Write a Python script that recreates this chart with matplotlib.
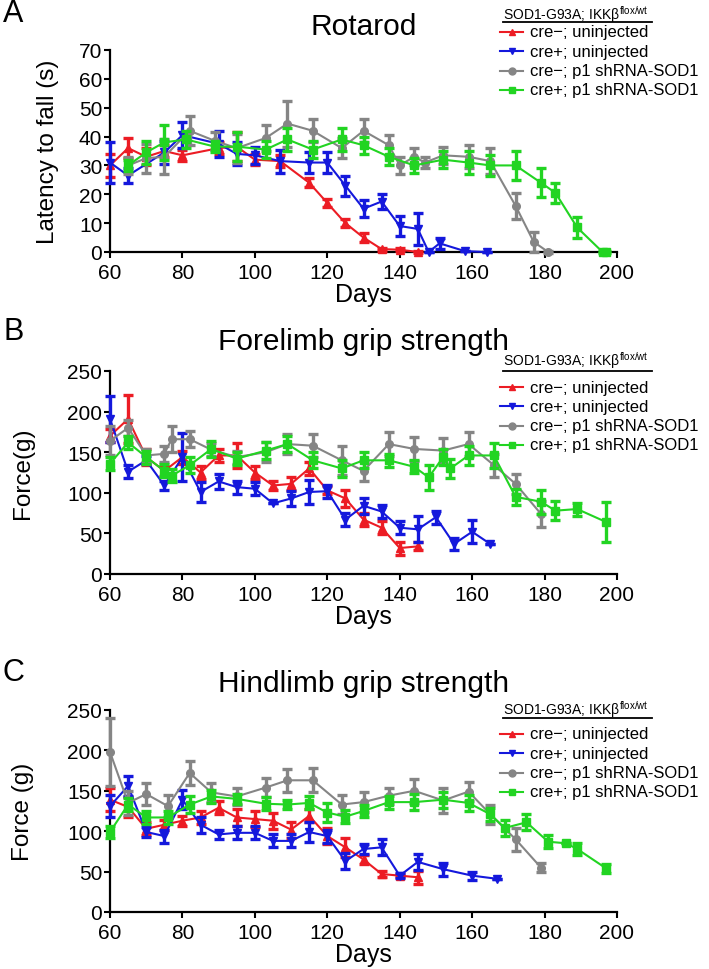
# Recreation of the rotarod / grip strength panels (A, B, C)
import numpy as np
import matplotlib
matplotlib.use("Agg")
import matplotlib.pyplot as plt
from matplotlib.lines import Line2D

plt.rcParams['font.family'] = ['Liberation Sans', 'DejaVu Sans']

# ---- panel A: Rotarod (latency to fall, s) ----
rot_red_days = [60, 65, 70, 75, 80, 90, 95, 100, 107, 115, 120, 125, 130, 135, 140, 145]
rot_red_val = [30, 36, 33, 35, 33.5, 36, 36.5, 32, 31.5, 24, 17, 10, 5, 1, 0.8, 0]
rot_red_err = [4, 3.5, 3, 2, 2, 2, 5, 2, 2, 1.5, 1.5, 1.5, 1.5, 0.5, 0.5, 0.5]

rot_blue_days = [60, 65, 75, 80, 90, 95, 100, 107, 115, 120, 125, 130, 135, 140, 145, 148, 151, 158, 164]
rot_blue_val = [31, 26.5, 34.5, 40.5, 37.5, 34, 33.5, 31.5, 31, 31, 23, 15, 17.5, 9, 8, 0, 3, 0.3, 0]
rot_blue_err = [7, 2.5, 4, 4.5, 4.5, 4, 3, 4, 3.5, 3.5, 3.5, 3, 2.5, 3.5, 5.5, 0, 2, 0, 0]

rot_grey_days = [65, 70, 75, 82, 89, 95, 103, 109, 116, 124, 130, 137, 140, 144, 147, 152, 159, 165, 172, 177, 181]
rot_grey_val = [30, 32.5, 33, 42, 38.5, 36, 39.5, 44.5, 42, 36, 42, 37, 30, 33, 31, 33.5, 33, 31.5, 16, 3.5, 0]
rot_grey_err = [3, 5, 6, 5, 3, 5, 4.5, 8, 4, 3.5, 4, 3.5, 3, 3, 2, 3, 4, 4.5, 4.5, 3.5, 0.3]

rot_green_days = [65, 70, 75, 81, 89, 95, 103, 109, 116, 124, 130, 137, 144, 152, 159, 165, 172, 179, 183, 189, 196, 197]
rot_green_val = [30, 34.5, 38, 39, 36.5, 36.5, 35.5, 39, 35.5, 39, 37, 33, 30, 32, 31, 30, 30, 24, 20.5, 8.5, 0, 0]
rot_green_err = [2, 4, 6, 3, 2, 5, 3, 4, 3, 4, 3, 3, 2.5, 3, 4, 3.5, 5, 5, 3.5, 3.5, 0.5, 0.5]

# ---- panel B: Forelimb grip strength (g) ----
fore_red_days = [60, 65, 70, 75, 80, 85, 90, 95, 100, 105, 110, 115, 120, 125, 130, 135, 140, 145]
fore_red_val = [170, 191, 144, 127, 144, 125, 146, 146, 125, 109, 111, 130, 103, 93, 67, 57, 32, 34]
fore_red_err = [8, 30, 10, 6, 8, 8, 8, 15, 8, 6, 8, 8, 5, 10, 8, 8, 8, 5]

fore_blue_days = [60, 65, 70, 75, 80, 85, 90, 95, 100, 105, 110, 115, 120, 125, 130, 135, 140, 145, 150, 155, 160, 165]
fore_blue_val = [191, 126, 140, 109, 144, 101, 114, 107, 105, 87, 93, 101, 102, 67, 84, 77, 57, 55, 70, 37, 52, 37]
fore_blue_err = [28, 8, 5, 6, 30, 12, 9, 8, 8, 0, 9, 15, 8, 8, 10, 8, 8, 16, 8, 7, 14, 0]

fore_grey_days = [60, 65, 70, 75, 77, 82, 88, 95, 103, 109, 116, 124, 130, 137, 144, 152, 159, 166, 172, 179]
fore_grey_val = [164, 180, 146, 148, 166, 166, 153, 144, 150, 160, 158, 140, 127, 160, 154, 152, 160, 134, 111, 74]
fore_grey_err = [18, 10, 8, 10, 16, 10, 8, 8, 12, 12, 14, 18, 12, 15, 15, 15, 15, 14, 12, 16]

fore_green_days = [60, 65, 70, 75, 77, 82, 88, 95, 103, 109, 116, 124, 130, 137, 144, 148, 152, 154, 159, 166, 172, 179, 183, 189, 197]
fore_green_val = [136, 162, 144, 127, 121, 134, 154, 142, 152, 160, 140, 130, 140, 140, 132, 119, 144, 130, 146, 146, 95, 89, 78, 80, 64]
fore_green_err = [8, 8, 8, 8, 8, 10, 10, 8, 10, 10, 10, 10, 10, 8, 8, 15, 10, 12, 12, 15, 10, 15, 12, 8, 25]

# ---- panel C: Hindlimb grip strength (g) ----
hind_red_days = [60, 65, 70, 75, 80, 85, 90, 95, 100, 105, 110, 115, 120, 125, 130, 135, 140, 145]
hind_red_val = [139, 130, 103, 108, 113, 117, 129, 117, 115, 113, 102, 119, 94, 80, 65, 47, 45, 43]
hind_red_err = [14, 12, 8, 6, 6, 8, 8, 10, 10, 10, 10, 8, 10, 12, 6, 4, 2, 8]

hind_blue_days = [60, 65, 70, 75, 80, 85, 90, 95, 100, 105, 110, 115, 120, 125, 130, 135, 140, 145, 152, 160, 167]
hind_blue_val = [131, 156, 99, 94, 139, 108, 96, 98, 98, 88, 88, 99, 94, 63, 78, 80, 45, 62, 53, 45, 41]
hind_blue_err = [14, 12, 6, 8, 12, 10, 6, 8, 8, 8, 8, 12, 8, 10, 6, 10, 3, 10, 8, 5, 0]

hind_grey_days = [60, 65, 70, 76, 82, 88, 95, 103, 109, 116, 124, 130, 137, 144, 152, 159, 165, 172, 179]
hind_grey_val = [198, 135, 146, 131, 172, 148, 143, 154, 163, 163, 133, 136, 144, 150, 138, 149, 121, 90, 55]
hind_grey_err = [42, 15, 14, 14, 15, 12, 10, 12, 14, 15, 12, 12, 10, 15, 15, 12, 12, 14, 6]

hind_green_days = [60, 65, 70, 76, 82, 88, 95, 103, 109, 115, 120, 125, 130, 137, 144, 152, 159, 165, 169, 175, 181, 186, 189, 197]
hind_green_val = [99, 133, 117, 117, 133, 143, 140, 134, 133, 135, 123, 118, 125, 136, 136, 139, 135, 121, 104, 111, 87, 85, 78, 54]
hind_green_err = [8, 8, 8, 8, 10, 8, 6, 8, 6, 8, 12, 8, 8, 8, 10, 10, 10, 8, 10, 10, 8, 0, 8, 6]

labels = ['cre\u2212; uninjected', 'cre+; uninjected',
          'cre\u2212; p1 shRNA-SOD1', 'cre+; p1 shRNA-SOD1']
colors = ['#ec1c24', '#1418dc', '#858585', '#22d422']
markers = ['^', 'v', 'o', 's']
legend_title = 'SOD1-G93A; IKK\u03b2' + r'$^{\mathregular{flox/wt}}$'

W, H = 709, 970
fig = plt.figure(figsize=(W / 100, H / 100), dpi=100)


def px_axes(top, bottom, left=110, right=617):
    return fig.add_axes([left / W, 1 - bottom / H, (right - left) / W, (bottom - top) / H])


def draw_series(ax, days, val, err, i):
    ax.errorbar(days, val, yerr=err, color=colors[i], marker=markers[i],
                markersize=5.5, lw=1.5, elinewidth=2.4, capsize=3.5, capthick=2.4,
                clip_on=False, zorder=3 + i)


def draw_legend(title_y, line_y, first_y, step=19.3):
    fig.text(503 / W, 1 - title_y / H, legend_title, fontsize=10, ha='left', va='center')
    fig.add_artist(Line2D([503 / W, 652 / W], [1 - line_y / H] * 2, color='black', lw=1.3))
    for i in range(4):
        y = 1 - (first_y + i * step) / H
        fig.add_artist(Line2D([500 / W, 523 / W], [y, y], color=colors[i], lw=1.5))
        fig.add_artist(Line2D([511.5 / W], [y], color=colors[i], marker=markers[i],
                              markersize=5, lw=0))
        fig.text(530 / W, y, labels[i], fontsize=12, ha='left', va='center')


def style_axes(ax, ymax, ystep, ylabel, title, title_pad, ylab_x):
    ax.set_xlim(60, 200)
    ax.set_ylim(0, ymax)
    ax.set_xticks(np.arange(60, 201, 20))
    ax.set_yticks(np.arange(0, ymax + 1, ystep))
    for s in ['top', 'right']:
        ax.spines[s].set_visible(False)
    for s in ['left', 'bottom']:
        ax.spines[s].set_linewidth(1.6)
    ax.tick_params(direction='out', length=4.5, width=1.5, labelsize=15)
    ax.tick_params(axis='x', pad=3.5)
    ax.tick_params(axis='y', pad=1)
    ax.set_xlabel('Days', fontsize=18, labelpad=0)
    ax.set_ylabel(ylabel, fontsize=17.5)
    ax.yaxis.set_label_coords(ylab_x, 0.5)
    ax.set_title(title, fontsize=21.5, pad=title_pad)


panels = [
    (51, 253, 70, 10, 'Latency to fall (s)', 'Rotarod', 11.5, -0.10, 'A', 14,
     [(rot_red_days, rot_red_val, rot_red_err), (rot_blue_days, rot_blue_val, rot_blue_err),
      (rot_grey_days, rot_grey_val, rot_grey_err), (rot_green_days, rot_green_val, rot_green_err)],
     (15, 23, 33)),
    (372, 575, 250, 50, 'Force(g)', 'Forelimb grip strength', 15.8, -0.15, 'B', 332,
     [(fore_red_days, fore_red_val, fore_red_err), (fore_blue_days, fore_blue_val, fore_blue_err),
      (fore_grey_days, fore_grey_val, fore_grey_err), (fore_green_days, fore_green_val, fore_green_err)],
     (361, 372, 388)),
    (711, 913, 250, 50, 'Force (g)', 'Hindlimb grip strength', 13.7, -0.15, 'C', 673,
     [(hind_red_days, hind_red_val, hind_red_err), (hind_blue_days, hind_blue_val, hind_blue_err),
      (hind_grey_days, hind_grey_val, hind_grey_err), (hind_green_days, hind_green_val, hind_green_err)],
     (710, 719, 735)),
]

for top, bottom, ymax, ystep, ylab, title, tpad, ylx, letter, let_y, series, leg in panels:
    ax = px_axes(top, bottom)
    for i, (d, v, e) in enumerate(series):
        draw_series(ax, d, v, e, i)
    style_axes(ax, ymax, ystep, ylab, title, tpad, ylx)
    fig.text(3 / W, 1 - let_y / H, letter, fontsize=22, ha='left', va='center')
    draw_legend(*leg)

fig.savefig('out.png', dpi=100)
